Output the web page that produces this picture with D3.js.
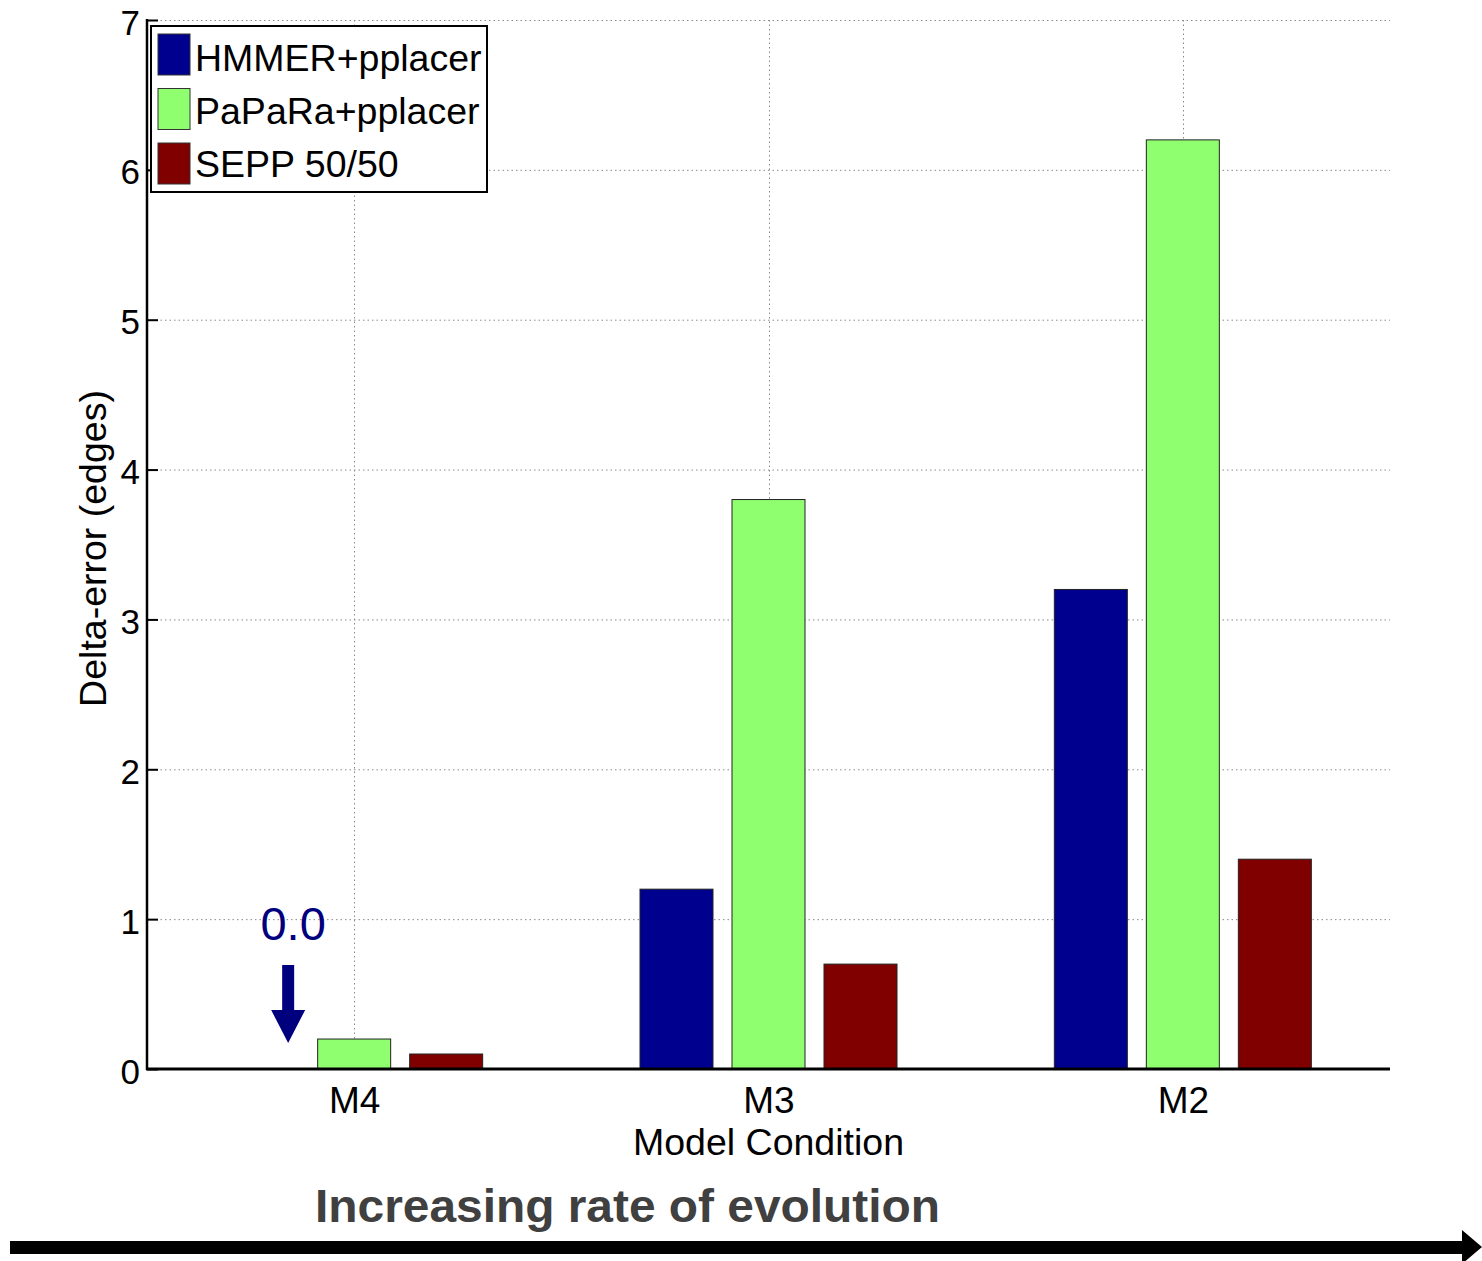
<!DOCTYPE html>
<html>
<head>
<meta charset="utf-8">
<script src="https://cdn.jsdelivr.net/npm/d3@7"></script>
<style>
  body { margin: 0; background: #fff; }
  svg { display: block; font-family: "Liberation Sans", Arial, sans-serif; }
</style>
</head>
<body>
<svg id="chart" width="1482" height="1261"></svg>
<script>
// data
const categories = ['M4', 'M3', 'M2'];
const seriesNames = ['HMMER+pplacer', 'PaPaRa+pplacer', 'SEPP 50/50'];
const hmmer = [0.0, 1.2, 3.2];
const papara = [0.2, 3.8, 6.2];
const sepp = [0.1, 0.7, 1.4];
const yTicks = [0, 1, 2, 3, 4, 5, 6, 7];

const colors = ['#00008f', '#8fff70', '#800000'];
const seriesValues = [hmmer, papara, sepp];

const svg = d3.select('#chart');
const plotLeft = 147, plotRight = 1390, plotTop = 20, plotBottom = 1069;

// MATLAB-ish x axis: categories at 1..3, limits 0.5..3.5
const x = d3.scaleLinear().domain([0.5, 3.5]).range([plotLeft, plotRight]);
const y = d3.scaleLinear().domain([0, 7]).range([plotBottom, plotTop]);
const inner = d3.scaleBand().domain(seriesNames).range([-138, 138])
    .paddingInner(0.2065).paddingOuter(0.2065 / 2);

// grid
const grid = svg.append('g').attr('class', 'grid')
    .attr('stroke', '#8a8a8a').attr('stroke-width', 1).attr('stroke-dasharray', '1.5,3');
grid.selectAll('line.h').data(yTicks.filter(d => d > 0)).enter().append('line')
    .attr('x1', plotLeft).attr('x2', plotRight)
    .attr('y1', d => y(d) + 0.5).attr('y2', d => y(d) + 0.5);
grid.selectAll('line.v').data(categories).enter().append('line')
    .attr('x1', (d, i) => Math.round(x(i + 1)) + 0.5).attr('x2', (d, i) => Math.round(x(i + 1)) + 0.5)
    .attr('y1', plotTop).attr('y2', plotBottom);

// bars
const groups = svg.append('g').selectAll('g.cat').data(categories).enter().append('g')
    .attr('transform', (d, i) => `translate(${x(i + 1)},0)`);
groups.selectAll('rect').data((d, i) => seriesNames.map((s, j) => ({s, j, v: seriesValues[j][i]})))
  .enter().filter(d => d.v > 0).append('rect')
    .attr('x', d => inner(d.s))
    .attr('width', inner.bandwidth())
    .attr('y', d => y(d.v))
    .attr('height', d => y(0) - y(d.v))
    .attr('fill', d => colors[d.j])
    .attr('stroke', '#222').attr('stroke-width', 1);

// axes
const yAxis = svg.append('g').attr('transform', `translate(${plotLeft},0)`)
    .call(d3.axisLeft(y).tickValues(yTicks).tickSize(-11).tickPadding(7).tickFormat(d3.format('d')));
yAxis.selectAll('.tick line').attr('stroke', '#000').attr('stroke-width', 2);
yAxis.selectAll('.tick text').attr('font-size', 35).attr('fill', '#000').attr('dy', '0.4em')
    .attr('font-family', '"Liberation Sans", Arial, sans-serif');
yAxis.select('.domain').remove();
svg.append('line').attr('x1', plotLeft).attr('x2', plotLeft).attr('y1', plotTop - 1).attr('y2', plotBottom + 1)
    .attr('stroke', '#000').attr('stroke-width', 2.5);

const xAxis = svg.append('g').attr('transform', `translate(0,${plotBottom})`)
    .call(d3.axisBottom(x).tickValues([1, 2, 3]).tickSize(0).tickPadding(18)
        .tickFormat(d => categories[d - 1]));
xAxis.select('.domain').remove();
xAxis.selectAll('.tick text').attr('font-size', 37).attr('fill', '#000')
    .attr('font-family', '"Liberation Sans", Arial, sans-serif');
svg.append('line').attr('x1', plotLeft - 1).attr('x2', plotRight).attr('y1', plotBottom).attr('y2', plotBottom)
    .attr('stroke', '#000').attr('stroke-width', 3);

// axis titles
svg.append('text').attr('x', (plotLeft + plotRight) / 2).attr('y', 1155)
    .attr('text-anchor', 'middle').attr('font-size', 37.5).text('Model Condition');
svg.append('text').attr('transform', `translate(106,${(plotTop + plotBottom) / 2 + 4}) rotate(-90)`)
    .attr('text-anchor', 'middle').attr('font-size', 37.5).text('Delta-error (edges)');

// legend
const legend = svg.append('g');
legend.append('rect').attr('x', 151).attr('y', 26).attr('width', 336).attr('height', 166)
    .attr('fill', '#fff').attr('stroke', '#000').attr('stroke-width', 2);
seriesNames.forEach((s, j) => {
  const top0 = 34 + j * 54.5;
  legend.append('rect').attr('x', 158).attr('y', top0).attr('width', 32).attr('height', 41)
      .attr('fill', colors[j]).attr('stroke', '#333').attr('stroke-width', 1);
  legend.append('text').attr('x', 195).attr('y', 71 + j * 53).attr('font-size', 37.5).text(s);
});

// annotation "0.0" with down arrow for the missing HMMER bar at M4
const annX = x(1) + inner(seriesNames[0]) + inner.bandwidth() / 2 + 26;
svg.append('text').attr('x', annX + 5).attr('y', 940).attr('text-anchor', 'middle')
    .attr('font-size', 47).attr('fill', '#00007f').text('0.0');
svg.append('path')
    .attr('d', `M${annX - 6},965 h12 v45 h11 l-17,33 l-17,-33 h11 z`)
    .attr('fill', '#00007f');

// bottom banner
svg.append('text').attr('x', 315).attr('y', 1222).attr('font-size', 47).attr('font-weight', 'bold')
    .attr('fill', '#404040').attr('textLength', 625).attr('lengthAdjust', 'spacingAndGlyphs')
    .text('Increasing rate of evolution');
svg.append('path')
    .attr('d', 'M10,1241 H1462 V1230 L1482,1247 L1462,1264 V1254 H10 Z')
    .attr('fill', '#000');
</script>
</body>
</html>
